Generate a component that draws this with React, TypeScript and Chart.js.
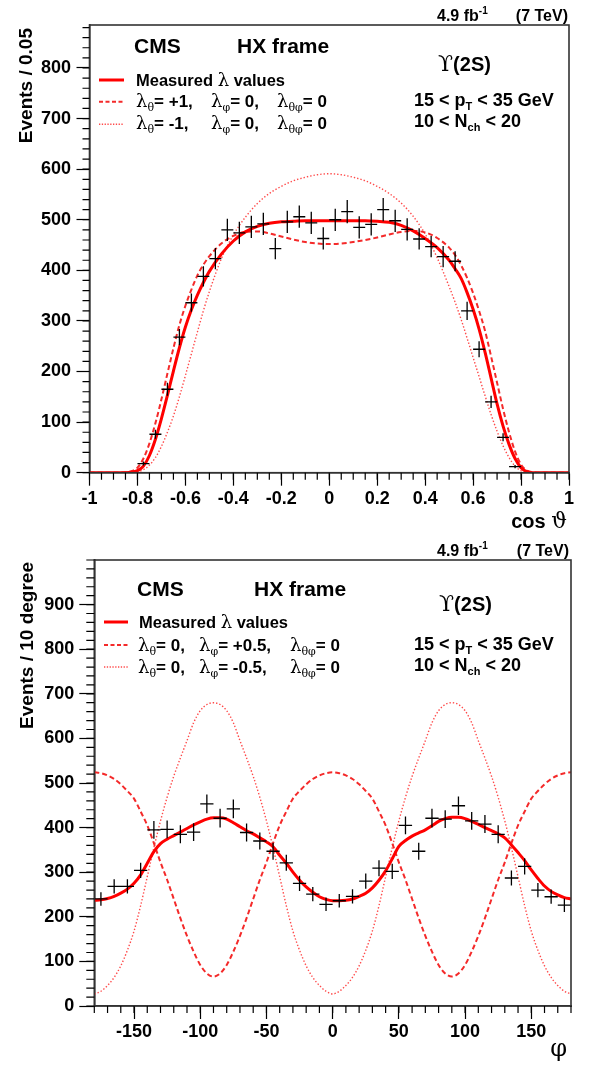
import React, { useEffect, useRef } from 'react';
import { Chart, registerables } from 'chart.js';

Chart.register(...registerables);

const SANS = "'Liberation Sans', Arial, Helvetica, sans-serif";
const SERIF = "'DejaVu Serif', 'Liberation Serif', serif";
const RED = '#ff0000';

// ---------------- cos(theta) distribution ----------------
const cosTickValues = [-1, -0.8, -0.6, -0.4, -0.2, 0, 0.2, 0.4, 0.6, 0.8, 1];
const cosCountTicks = [0, 100, 200, 300, 400, 500, 600, 700, 800];
const cosCenters = [-0.775, -0.725, -0.675, -0.625, -0.575, -0.525, -0.475, -0.425, -0.375, -0.325, -0.275, -0.225, -0.175, -0.125, -0.075, -0.025, 0.025, 0.075, 0.125, 0.175, 0.225, 0.275, 0.325, 0.375, 0.425, 0.475, 0.525, 0.575, 0.625, 0.675, 0.725, 0.775];
const cosCounts = [18, 76, 165, 268, 336, 388, 423, 480, 474, 486, 492, 443, 496, 506, 494, 463, 500, 516, 485, 491, 520, 498, 481, 462, 447, 427, 418, 320, 244, 140, 70, 12];
const cosErrors = [4, 9, 13, 16, 18, 20, 21, 22, 22, 22, 22, 21, 22, 22, 22, 22, 22, 23, 22, 22, 23, 22, 22, 21, 21, 21, 20, 18, 16, 12, 8, 3];
const cosBinHalf = 0.025;
const cosGrid = [-1, -0.95, -0.9, -0.85, -0.825, -0.8, -0.775, -0.75, -0.725, -0.7, -0.675, -0.65, -0.625, -0.6, -0.575, -0.55, -0.525, -0.5, -0.45, -0.4, -0.35, -0.3, -0.25, -0.2, -0.15, -0.1, -0.05, 0, 0.05, 0.1, 0.15, 0.2, 0.25, 0.3, 0.35, 0.4, 0.45, 0.5, 0.525, 0.55, 0.575, 0.6, 0.625, 0.65, 0.675, 0.7, 0.725, 0.75, 0.775, 0.8, 0.825, 0.85, 0.9, 0.95, 1];
const cosMeasured = [0, 0, 0, 0, 1, 4, 13, 34, 66, 107, 153, 201, 247, 288, 322, 351, 376, 398, 432, 458, 476, 487, 493, 496, 497, 498, 498, 498, 498, 498, 498, 497, 495, 489, 478, 463, 445, 420, 403, 384, 356, 323, 284, 238, 187, 136, 92, 56, 28, 10, 2, 0, 0, 0, 0];
const cosPlusOne = [0, 0, 0, 1, 3, 10, 28, 58, 98, 145, 196, 246, 292, 330, 362, 390, 411, 428, 453, 468, 476, 477, 473, 467, 461, 456, 453, 452, 453, 456, 460, 465, 471, 476, 478, 475, 464, 445, 430, 410, 385, 355, 320, 280, 230, 178, 126, 80, 42, 16, 4, 1, 0, 0, 0];
const cosMinusOne = [0, 0, 0, 0, 0, 2, 6, 15, 30, 52, 80, 112, 150, 192, 235, 278, 320, 358, 423, 470, 505, 532, 552, 566, 577, 584, 589, 591, 589, 584, 577, 566, 552, 533, 507, 472, 425, 368, 337, 303, 266, 228, 190, 152, 115, 82, 53, 30, 13, 4, 1, 0, 0, 0, 0];

// ---------------- phi distribution ----------------
const phiTickValues = [-150, -100, -50, 0, 50, 100, 150];
const phiCountTicks = [0, 100, 200, 300, 400, 500, 600, 700, 800, 900];
const phiCenters = [-175, -165, -155, -145, -135, -125, -115, -105, -95, -85, -75, -65, -55, -45, -35, -25, -15, -5, 5, 15, 25, 35, 45, 55, 65, 75, 85, 95, 105, 115, 125, 135, 145, 155, 165, 175];
const phiCounts = [240, 268, 268, 304, 395, 396, 385, 390, 453, 421, 442, 389, 370, 347, 321, 275, 251, 228, 236, 246, 280, 309, 302, 405, 347, 421, 419, 449, 415, 408, 385, 287, 313, 260, 245, 226];
const phiErrors = [15, 16, 16, 17, 20, 20, 20, 20, 21, 21, 21, 20, 19, 19, 18, 17, 16, 15, 15, 16, 17, 18, 17, 20, 19, 21, 20, 21, 20, 20, 20, 17, 18, 16, 16, 15];
const phiBinHalf = 5;
const phiGrid = [-180, -175, -170, -165, -160, -155, -150, -145, -140, -135, -130, -125, -120, -115, -110, -105, -100, -95, -90, -85, -80, -75, -70, -65, -60, -55, -50, -45, -40, -35, -30, -25, -20, -15, -10, -5, 0, 5, 10, 15, 20, 25, 30, 35, 40, 45, 50, 55, 60, 65, 70, 75, 80, 85, 90, 95, 100, 105, 110, 115, 120, 125, 130, 135, 140, 145, 150, 155, 160, 165, 170, 175, 180];
const phiMeasured = [237, 238, 241, 246, 253, 262, 275, 294, 320, 346, 364, 374, 382, 390, 398, 406, 413, 419, 422, 422, 419, 411, 402, 393, 386, 377, 368, 357, 338, 320, 300, 282, 267, 255, 245, 239, 236, 236, 237, 240, 246, 253, 265, 282, 303, 330, 358, 371, 381, 388, 395, 404, 414, 420, 423, 423, 420, 414, 407, 400, 393, 386, 377, 361, 344, 326, 305, 286, 269, 257, 249, 243, 240];
const phiPlusHalf = [524, 522, 517, 509, 497, 482, 465, 436, 405, 365, 322, 283, 240, 197, 157, 122, 92, 73, 66, 73, 92, 122, 157, 197, 240, 283, 322, 365, 405, 436, 465, 482, 497, 509, 517, 522, 524, 522, 517, 509, 497, 482, 465, 436, 405, 365, 322, 283, 240, 197, 157, 122, 92, 73, 66, 73, 92, 122, 157, 197, 240, 283, 322, 365, 405, 436, 465, 482, 497, 509, 517, 522, 524];
const phiMinusHalf = [27, 33, 46, 64, 90, 125, 168, 225, 290, 355, 415, 468, 515, 556, 595, 635, 662, 676, 680, 676, 662, 635, 595, 556, 515, 468, 415, 355, 290, 225, 168, 125, 90, 64, 46, 33, 27, 33, 46, 64, 90, 125, 168, 225, 290, 355, 415, 468, 515, 556, 595, 635, 662, 676, 680, 676, 662, 635, 595, 556, 515, 468, 415, 355, 290, 225, 168, 125, 90, 64, 46, 33, 27];

type Kind = 'solid' | 'dashed' | 'dotted';
interface Curve { xs: number[]; ys: number[]; kind: Kind }
interface PlotSpec {
  height: number;
  padTop: number; padRight: number;
  yAxisWidth: number; xAxisHeight: number;
  xMin: number; xMax: number; yMin: number; yMax: number;
  xTicks: number[]; yTicks: number[];
  xMinor: number; yMinor: number;
  xMajorLen: number; yMajorLen: number; xMinorLen: number; yMinorLen: number;
  xLabelPad: number; yLabelPad: number;
  curves: Curve[];
  pts: { xs: number[]; ys: number[]; errs: number[]; half: number };
}

const topSpec: PlotSpec = {
  height: 535, padTop: 25, padRight: 26, yAxisWidth: 89.5, xAxisHeight: 62.3,
  xMin: -1, xMax: 1, yMin: 0, yMax: 885,
  xTicks: cosTickValues, yTicks: cosCountTicks, xMinor: 0.05, yMinor: 20,
  xMajorLen: 13, yMajorLen: 13, xMinorLen: 7, yMinorLen: 7,
  xLabelPad: 2.5, yLabelPad: 5.5,
  curves: [
    { xs: cosGrid, ys: cosMeasured, kind: 'solid' },
    { xs: cosGrid, ys: cosPlusOne, kind: 'dashed' },
    { xs: cosGrid, ys: cosMinusOne, kind: 'dotted' },
  ],
  pts: { xs: cosCenters, ys: cosCounts, errs: cosErrors, half: cosBinHalf },
};

const bottomSpec: PlotSpec = {
  height: 530, padTop: 25, padRight: 24, yAxisWidth: 94.3, xAxisHeight: 59,
  xMin: -180, xMax: 180, yMin: 0, yMax: 1000,
  xTicks: phiTickValues, yTicks: phiCountTicks, xMinor: 10, yMinor: 20,
  xMajorLen: 13, yMajorLen: 15, xMinorLen: 7, yMinorLen: 8,
  xLabelPad: 2, yLabelPad: 5,
  curves: [
    { xs: phiGrid, ys: phiMeasured, kind: 'solid' },
    { xs: phiGrid, ys: phiPlusHalf, kind: 'dashed' },
    { xs: phiGrid, ys: phiMinusHalf, kind: 'dotted' },
  ],
  pts: { xs: phiCenters, ys: phiCounts, errs: phiErrors, half: phiBinHalf },
};

function lineStyle(kind: Kind) {
  if (kind === 'solid') return { borderColor: RED, borderWidth: 3, borderDash: [] as number[] };
  if (kind === 'dashed') return { borderColor: '#f42a2a', borderWidth: 2, borderDash: [5, 3] };
  return { borderColor: '#ff4a4a', borderWidth: 1.4, borderDash: [1.4, 2] };
}

function RootPlot({ spec, top }: { spec: PlotSpec; top: number }) {
  const ref = useRef<HTMLCanvasElement>(null);
  useEffect(() => {
    const canvas = ref.current;
    if (!canvas) return;
    const datasets: any[] = spec.curves.map((c) => ({
      type: 'line',
      data: c.xs.map((x, i) => ({ x, y: c.ys[i] })),
      pointRadius: 0,
      fill: false,
      cubicInterpolationMode: 'monotone',
      ...lineStyle(c.kind),
    }));
    const framePlugin = {
      id: 'rootFrame',
      afterDatasetsDraw(chart: any) {
        const ctx = chart.ctx as CanvasRenderingContext2D;
        const { left, right, top: t, bottom } = chart.chartArea;
        const xs = chart.scales.x;
        const ys = chart.scales.y;
        ctx.save();
        // data points with error bars
        ctx.beginPath();
        ctx.strokeStyle = '#000';
        ctx.lineWidth = 1.3;
        spec.pts.xs.forEach((cx, i) => {
          const cy = spec.pts.ys[i];
          const e = spec.pts.errs[i];
          const py = ys.getPixelForValue(cy);
          ctx.moveTo(xs.getPixelForValue(cx - spec.pts.half), py);
          ctx.lineTo(xs.getPixelForValue(cx + spec.pts.half), py);
          const pc = xs.getPixelForValue(cx);
          ctx.moveTo(pc, ys.getPixelForValue(cy - e));
          ctx.lineTo(pc, ys.getPixelForValue(cy + e));
        });
        ctx.stroke();
        // frame
        ctx.strokeStyle = '#333';
        ctx.lineWidth = 1.6;
        ctx.strokeRect(left, t, right - left, bottom - t);
        // minor ticks
        ctx.beginPath();
        ctx.strokeStyle = '#000';
        ctx.lineWidth = 1.2;
        const nx = Math.round((spec.xMax - spec.xMin) / spec.xMinor);
        for (let i = 0; i <= nx; i++) {
          const px = xs.getPixelForValue(spec.xMin + i * spec.xMinor);
          ctx.moveTo(px, bottom);
          ctx.lineTo(px, bottom + spec.xMinorLen);
        }
        const ny = Math.floor((spec.yMax - spec.yMin) / spec.yMinor + 1e-9);
        for (let i = 0; i <= ny; i++) {
          const py = ys.getPixelForValue(spec.yMin + i * spec.yMinor);
          ctx.moveTo(left - spec.yMinorLen, py);
          ctx.lineTo(left, py);
        }
        ctx.stroke();
        ctx.restore();
      },
    };
    const tickFont = { family: SANS, weight: 'bold' as const, size: 18 };
    const chart = new Chart(canvas, {
      type: 'line',
      data: { datasets },
      options: {
        animation: false,
        responsive: false,
        events: [],
        layout: { padding: { top: spec.padTop, right: spec.padRight, left: 0, bottom: 0 } },
        plugins: { legend: { display: false }, tooltip: { enabled: false } },
        scales: {
          x: {
            type: 'linear',
            min: spec.xMin,
            max: spec.xMax,
            afterBuildTicks: (s: any) => { s.ticks = spec.xTicks.map((v) => ({ value: v })); },
            afterFit: (s: any) => { s.height = spec.xAxisHeight; },
            ticks: { autoSkip: false, maxRotation: 0, padding: spec.xLabelPad, color: '#000', font: tickFont, callback: (v: any) => String(v) },
            grid: { drawOnChartArea: false, tickLength: spec.xMajorLen, color: '#000', tickWidth: 1.2 },
            border: { display: true, color: '#333', width: 1.6 },
          },
          y: {
            type: 'linear',
            min: spec.yMin,
            max: spec.yMax,
            afterBuildTicks: (s: any) => { s.ticks = spec.yTicks.map((v) => ({ value: v })); },
            afterFit: (s: any) => { s.width = spec.yAxisWidth; },
            ticks: { autoSkip: false, padding: spec.yLabelPad, color: '#000', font: tickFont, callback: (v: any) => String(v) },
            grid: { drawOnChartArea: false, tickLength: spec.yMajorLen, color: '#000', tickWidth: 1.2 },
            border: { display: true, color: '#333', width: 1.6 },
          },
        },
      } as any,
      plugins: [framePlugin],
    });
    return () => chart.destroy();
  }, [spec]);
  return (
    <canvas
      ref={ref}
      width={595}
      height={spec.height}
      style={{ position: 'absolute', left: 0, top, width: 595, height: spec.height }}
    />
  );
}

const pre = { whiteSpace: 'pre' as const };

function LamGroup({ x, y, sub, val }: { x: number; y: number; sub: string; val: string }) {
  return (
    <text x={x} y={y} fontFamily={SANS} fontWeight="bold" fontSize={17} style={pre}>
      <tspan fontFamily={SERIF} fontWeight="normal" fontSize={18}>λ</tspan>
      <tspan fontFamily={SERIF} fontWeight="normal" fontSize={11} dy={4}>{sub}</tspan>
      <tspan dy={-4}>{'= ' + val}</tspan>
    </text>
  );
}

function LegendSample({ x1, x2, y, kind }: { x1: number; x2: number; y: number; kind: Kind }) {
  if (kind === 'solid') return <line x1={x1} x2={x2} y1={y} y2={y} stroke={RED} strokeWidth={3} />;
  if (kind === 'dashed') return <line x1={x1} x2={x2} y1={y} y2={y} stroke="#f42a2a" strokeWidth={2} strokeDasharray="4 2.5" />;
  return <line x1={x1} x2={x2} y1={y} y2={y} stroke="#ff4a4a" strokeWidth={1.4} strokeDasharray="1.3 1.5" />;
}

function Annotations() {
  return (
    <svg width={595} height={1065} style={{ position: 'absolute', left: 0, top: 0, pointerEvents: 'none' }}>
      {/* ---------- top plot ---------- */}
      <text x={437} y={21} fontFamily={SANS} fontWeight="bold" fontSize={16} style={pre}>
        4.9 fb<tspan fontSize={10} dy={-7}>-1</tspan>
      </text>
      <text x={568} y={21} textAnchor="end" fontFamily={SANS} fontWeight="bold" fontSize={16}>(7 TeV)</text>
      <text x={134} y={53} fontFamily={SANS} fontWeight="bold" fontSize={21}>CMS</text>
      <text x={237} y={53} fontFamily={SANS} fontWeight="bold" fontSize={21}>HX frame</text>
      <text x={438} y={71} fontFamily={SANS} fontWeight="bold" fontSize={20} style={pre}>
        <tspan fontFamily={SERIF} fontWeight="normal" fontSize={22}>ϒ</tspan>(2S)
      </text>
      <LegendSample x1={99} x2={124} y={80} kind="solid" />
      <LegendSample x1={99} x2={124} y={101.7} kind="dashed" />
      <LegendSample x1={99} x2={124} y={124.3} kind="dotted" />
      <text x={136} y={86} fontFamily={SANS} fontWeight="bold" fontSize={16.5} style={pre}>
        {'Measured '}<tspan fontFamily={SERIF} fontWeight="normal" fontSize={18}>λ</tspan>{' values'}
      </text>
      <LamGroup x={136} y={107} sub="θ" val="+1," />
      <LamGroup x={211} y={107} sub="φ" val="0," />
      <LamGroup x={277} y={107} sub="θφ" val="0" />
      <LamGroup x={136} y={129} sub="θ" val="-1," />
      <LamGroup x={211} y={129} sub="φ" val="0," />
      <LamGroup x={277} y={129} sub="θφ" val="0" />
      <text x={414} y={106} fontFamily={SANS} fontWeight="bold" fontSize={18} style={pre}>
        {'15 < p'}<tspan fontSize={11} dy={4}>T</tspan><tspan dy={-4}>{' < 35 GeV'}</tspan>
      </text>
      <text x={414} y={127} fontFamily={SANS} fontWeight="bold" fontSize={18} style={pre}>
        {'10 < N'}<tspan fontSize={11} dy={4}>ch</tspan><tspan dy={-4}>{' < 20'}</tspan>
      </text>
      <text transform="translate(32,28) rotate(-90)" textAnchor="end" fontFamily={SANS} fontWeight="bold" fontSize={19}>Events / 0.05</text>
      <text x={567} y={528} textAnchor="end" fontFamily={SANS} fontWeight="bold" fontSize={20} style={pre}>
        {'cos '}<tspan fontFamily={SERIF} fontWeight="normal" fontSize={22}>ϑ</tspan>
      </text>

      {/* ---------- bottom plot ---------- */}
      <text x={437} y={556} fontFamily={SANS} fontWeight="bold" fontSize={16} style={pre}>
        4.9 fb<tspan fontSize={10} dy={-7}>-1</tspan>
      </text>
      <text x={569} y={556} textAnchor="end" fontFamily={SANS} fontWeight="bold" fontSize={16}>(7 TeV)</text>
      <text x={137} y={596} fontFamily={SANS} fontWeight="bold" fontSize={21}>CMS</text>
      <text x={254} y={596} fontFamily={SANS} fontWeight="bold" fontSize={21}>HX frame</text>
      <text x={439} y={611} fontFamily={SANS} fontWeight="bold" fontSize={20} style={pre}>
        <tspan fontFamily={SERIF} fontWeight="normal" fontSize={22}>ϒ</tspan>(2S)
      </text>
      <LegendSample x1={104} x2={128} y={622} kind="solid" />
      <LegendSample x1={104} x2={128} y={645} kind="dashed" />
      <LegendSample x1={104} x2={128} y={667} kind="dotted" />
      <text x={139} y={628} fontFamily={SANS} fontWeight="bold" fontSize={16.5} style={pre}>
        {'Measured '}<tspan fontFamily={SERIF} fontWeight="normal" fontSize={18}>λ</tspan>{' values'}
      </text>
      <LamGroup x={138} y={651} sub="θ" val="0," />
      <LamGroup x={199} y={651} sub="φ" val="+0.5," />
      <LamGroup x={290} y={651} sub="θφ" val="0" />
      <LamGroup x={138} y={673} sub="θ" val="0," />
      <LamGroup x={199} y={673} sub="φ" val="-0.5," />
      <LamGroup x={290} y={673} sub="θφ" val="0" />
      <text x={414} y={650} fontFamily={SANS} fontWeight="bold" fontSize={18} style={pre}>
        {'15 < p'}<tspan fontSize={11} dy={4}>T</tspan><tspan dy={-4}>{' < 35 GeV'}</tspan>
      </text>
      <text x={414} y={671} fontFamily={SANS} fontWeight="bold" fontSize={18} style={pre}>
        {'10 < N'}<tspan fontSize={11} dy={4}>ch</tspan><tspan dy={-4}>{' < 20'}</tspan>
      </text>
      <text transform="translate(33,562) rotate(-90)" textAnchor="end" fontFamily={SANS} fontWeight="bold" fontSize={19}>Events / 10 degree</text>
      <text x={567} y={1056} textAnchor="end" fontFamily={SERIF} fontSize={24}>φ</text>
    </svg>
  );
}

export default function App() {
  return (
    <div style={{ position: 'absolute', left: 0, top: 0, width: 595, height: 1065, background: '#fff' }}>
      <RootPlot spec={topSpec} top={0} />
      <RootPlot spec={bottomSpec} top={535} />
      <Annotations />
    </div>
  );
}
